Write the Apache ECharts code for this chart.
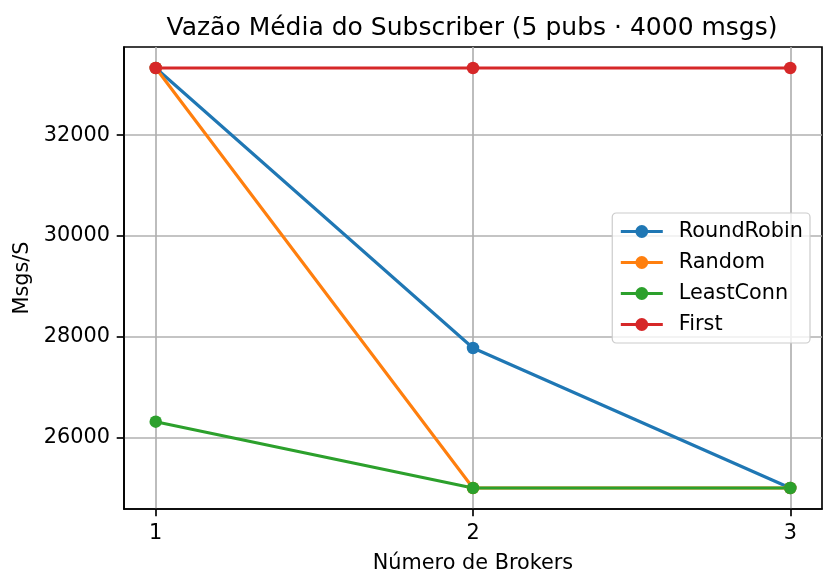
<!DOCTYPE html>
<html>
<head>
<meta charset="utf-8">
<script src="https://cdn.jsdelivr.net/npm/echarts@6/dist/echarts.min.js"></script>
<style>
html,body{margin:0;padding:0;background:#fff;}
#chart{width:836px;height:587px;}
</style>
</head>
<body>
<div id="chart"></div>
<script>
const brokers = [1, 2, 3];
const roundRobin = [33333, 27778, 25000];
const randomLB = [33333, 25000, 25000];
const leastConn = [26316, 25000, 25000];
const first = [33333, 33333, 33333];
const yTicks = [26000, 28000, 30000, 32000];
const xTicks = [1, 2, 3];

const FONT = 'DejaVu Sans';
const FS = 20.8;
const chart = echarts.init(document.getElementById('chart'));

function mk(name, vals, color) {
  return {
    name: name,
    type: 'line',
    data: brokers.map((b, i) => [b, vals[i]]),
    symbol: 'circle',
    symbolSize: 12.5,
    showSymbol: true,
    lineStyle: { color: color, width: 3.1 },
    itemStyle: { color: color },
    emphasis: { disabled: true },
    animation: false
  };
}

chart.setOption({
  animation: false,
  title: {
    text: 'Vazão Média do Subscriber (5 pubs · 4000 msgs)',
    left: 467,
    top: 11,
    textAlign: 'center',
    textStyle: { fontFamily: FONT, fontSize: 25, fontWeight: 'normal', color: '#000' }
  },
  grid: {
    left: 124, right: 14, top: 47, bottom: 78,
    show: true, borderColor: '#000', borderWidth: 1.67, backgroundColor: 'transparent'
  },
  legend: {
    orient: 'vertical',
    right: 26,
    top: 213,
    padding: [8, 7, 8, 7],
    itemWidth: 42,
    itemHeight: 16,
    itemGap: 10,
    backgroundColor: 'rgba(255,255,255,0.8)',
    borderColor: '#cccccc',
    borderWidth: 1.2,
    borderRadius: 4,
    lineStyle: { width: 3.1 },
    textStyle: { fontFamily: FONT, fontSize: FS, color: '#000', padding: [0, 0, 0, 11] },
    data: ['RoundRobin', 'Random', 'LeastConn', 'First']
  },
  xAxis: {
    type: 'value',
    min: 0.9,
    max: 3.1,
    name: 'Número de Brokers',
    nameLocation: 'middle',
    nameGap: 44,
    nameTextStyle: { fontFamily: FONT, fontSize: FS, color: '#000' },
    axisLine: { show: true, onZero: false, lineStyle: { color: '#000', width: 1.67 } },
    axisTick: { show: true, customValues: xTicks, length: 7.3, lineStyle: { color: '#000', width: 1.67 } },
    axisLabel: { customValues: xTicks, margin: 14, fontFamily: FONT, fontSize: FS, color: '#000', formatter: v => String(v) },
    splitLine: { show: true, lineStyle: { color: '#b0b0b0', width: 1.67 } }
  },
  yAxis: {
    type: 'value',
    min: 24583.33,
    max: 33750,
    name: 'Msgs/S',
    nameLocation: 'middle',
    nameGap: 80,
    nameTextStyle: { fontFamily: FONT, fontSize: FS, color: '#000' },
    axisLine: { show: true, onZero: false, lineStyle: { color: '#000', width: 1.67 } },
    axisTick: { show: true, customValues: yTicks, length: 7.3, lineStyle: { color: '#000', width: 1.67 } },
    axisLabel: { customValues: yTicks, margin: 14, fontFamily: FONT, fontSize: FS, color: '#000', formatter: v => String(v) },
    splitLine: { show: true, lineStyle: { color: '#b0b0b0', width: 1.67 } }
  },
  series: [
    mk('RoundRobin', roundRobin, '#1f77b4'),
    mk('Random', randomLB, '#ff7f0e'),
    mk('LeastConn', leastConn, '#2ca02c'),
    mk('First', first, '#d62728')
  ]
});
</script>
</body>
</html>
